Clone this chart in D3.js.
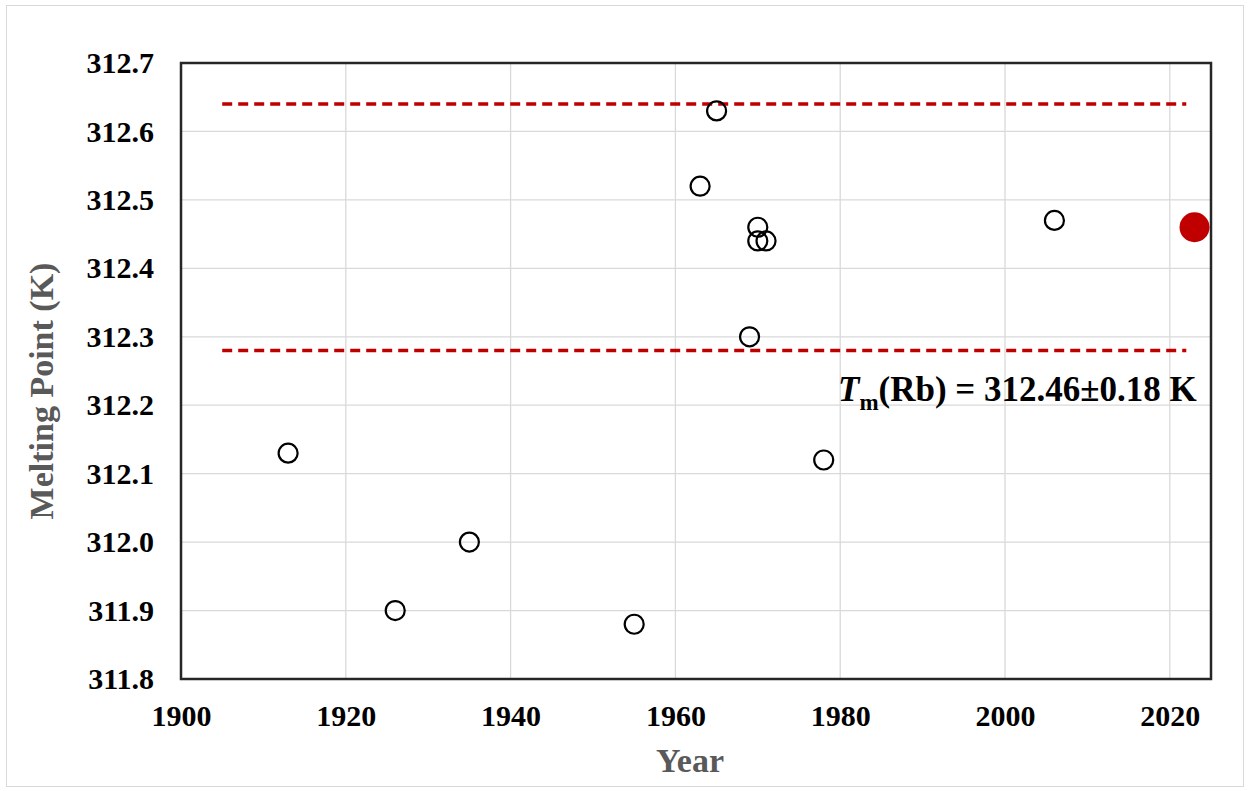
<!DOCTYPE html>
<html>
<head>
<meta charset="utf-8">
<script src="https://cdn.jsdelivr.net/npm/d3@7"></script>
<style>
  html, body { margin: 0; padding: 0; background: #fff; }
  svg { display: block; font-family: "Liberation Serif", "Times New Roman", serif; }
</style>
</head>
<body>
<svg id="chart" width="1249" height="791"></svg>
<script>
// Reported melting points of rubidium by year of publication
const years = [1913, 1926, 1935, 1955, 1963, 1965, 1969, 1970, 1970, 1971, 1978, 2006];
const meltingPoints = [312.13, 311.90, 312.00, 311.88, 312.52, 312.63, 312.30, 312.46, 312.44, 312.44, 312.12, 312.47];

// Recommended value
const recommendedYear = [2023];
const recommendedValue = [312.46];
const uncertainty = 0.18;
const boundYears = [1905, 2022];

const xTicks = [1900, 1920, 1940, 1960, 1980, 2000, 2020];
const yTicks = [311.8, 311.9, 312.0, 312.1, 312.2, 312.3, 312.4, 312.5, 312.6, 312.7];

const svg = d3.select("#chart");
const margin = { left: 181, top: 63, right: 1211, bottom: 679 };
const serif = "Liberation Serif, Times New Roman, serif";

const x = d3.scaleLinear().domain([1900, 2025]).range([margin.left, margin.right]);
const y = d3.scaleLinear().domain([311.8, 312.7]).range([margin.bottom, margin.top]);

// Outer chart border
svg.append("rect")
  .attr("x", 6.5).attr("y", 5.5).attr("width", 1237).attr("height", 781)
  .attr("fill", "#fff").attr("stroke", "#d9d9d9").attr("stroke-width", 1);

// Gridlines
const grid = svg.append("g");
grid.selectAll(".gx").data(xTicks.slice(1)).join("line")
  .attr("x1", d => x(d)).attr("x2", d => x(d))
  .attr("y1", margin.top).attr("y2", margin.bottom)
  .attr("stroke", "#d9d9d9").attr("stroke-width", 1.3);
grid.selectAll(".gy").data(yTicks.slice(1)).join("line")
  .attr("x1", margin.left).attr("x2", margin.right)
  .attr("y1", d => y(d)).attr("y2", d => y(d))
  .attr("stroke", "#d9d9d9").attr("stroke-width", 1.3);

// Axes (tick labels only)
const xAxis = svg.append("g")
  .attr("transform", `translate(0,${margin.bottom})`)
  .call(d3.axisBottom(x).tickValues(xTicks).tickFormat(d3.format("d")).tickSize(0).tickPadding(26));
xAxis.select(".domain").remove();
xAxis.selectAll("text")
  .attr("font-family", serif)
  .attr("font-size", 30).attr("font-weight", "bold").attr("fill", "#000");

const yAxis = svg.append("g")
  .attr("transform", `translate(${margin.left},0)`)
  .call(d3.axisLeft(y).tickValues(yTicks).tickFormat(d3.format(".1f")).tickSize(0).tickPadding(27));
yAxis.select(".domain").remove();
yAxis.selectAll("text")
  .attr("font-family", serif)
  .attr("font-size", 30).attr("font-weight", "bold").attr("fill", "#000");

// Plot frame
svg.append("rect")
  .attr("x", margin.left).attr("y", margin.top)
  .attr("width", margin.right - margin.left).attr("height", margin.bottom - margin.top)
  .attr("fill", "none").attr("stroke", "#262626").attr("stroke-width", 2.5);

// Uncertainty bounds
const bounds = [recommendedValue[0] + uncertainty, recommendedValue[0] - uncertainty];
svg.append("g").selectAll("line").data(bounds).join("line")
  .attr("x1", x(boundYears[0])).attr("x2", x(boundYears[1]))
  .attr("y1", d => y(d)).attr("y2", d => y(d))
  .attr("stroke", "#c00000").attr("stroke-width", 3.5)
  .attr("stroke-dasharray", "10,6");

// Literature values
svg.append("g").selectAll("circle").data(years.map((yr, i) => [yr, meltingPoints[i]])).join("circle")
  .attr("cx", d => x(d[0])).attr("cy", d => y(d[1])).attr("r", 9.5)
  .attr("fill", "none").attr("stroke", "#000").attr("stroke-width", 2.2);

// Recommended value
svg.append("g").selectAll("circle").data(recommendedYear.map((yr, i) => [yr, recommendedValue[i]])).join("circle")
  .attr("cx", d => x(d[0])).attr("cy", d => y(d[1])).attr("r", 15)
  .attr("fill", "#c00000");

// Annotation
const note = svg.append("text")
  .attr("x", 838).attr("y", 401)
  .attr("font-size", 35).attr("font-weight", "bold").attr("fill", "#000");
note.append("tspan").attr("font-style", "italic").text("T");
note.append("tspan").attr("font-size", 23).attr("dy", 9).text("m");
note.append("tspan").attr("dy", -9).text("(Rb) = 312.46±0.18 K");

// Axis titles
svg.append("text")
  .attr("x", (margin.left + margin.right) / 2 - 6).attr("y", 772)
  .attr("text-anchor", "middle")
  .attr("font-size", 34).attr("font-weight", "bold").attr("fill", "#595959")
  .text("Year");

svg.append("text")
  .attr("transform", `translate(53,${(margin.top + margin.bottom) / 2 + 20}) rotate(-90)`)
  .attr("text-anchor", "middle")
  .attr("font-size", 34).attr("font-weight", "bold").attr("fill", "#595959")
  .text("Melting Point (K)");
</script>
</body>
</html>
